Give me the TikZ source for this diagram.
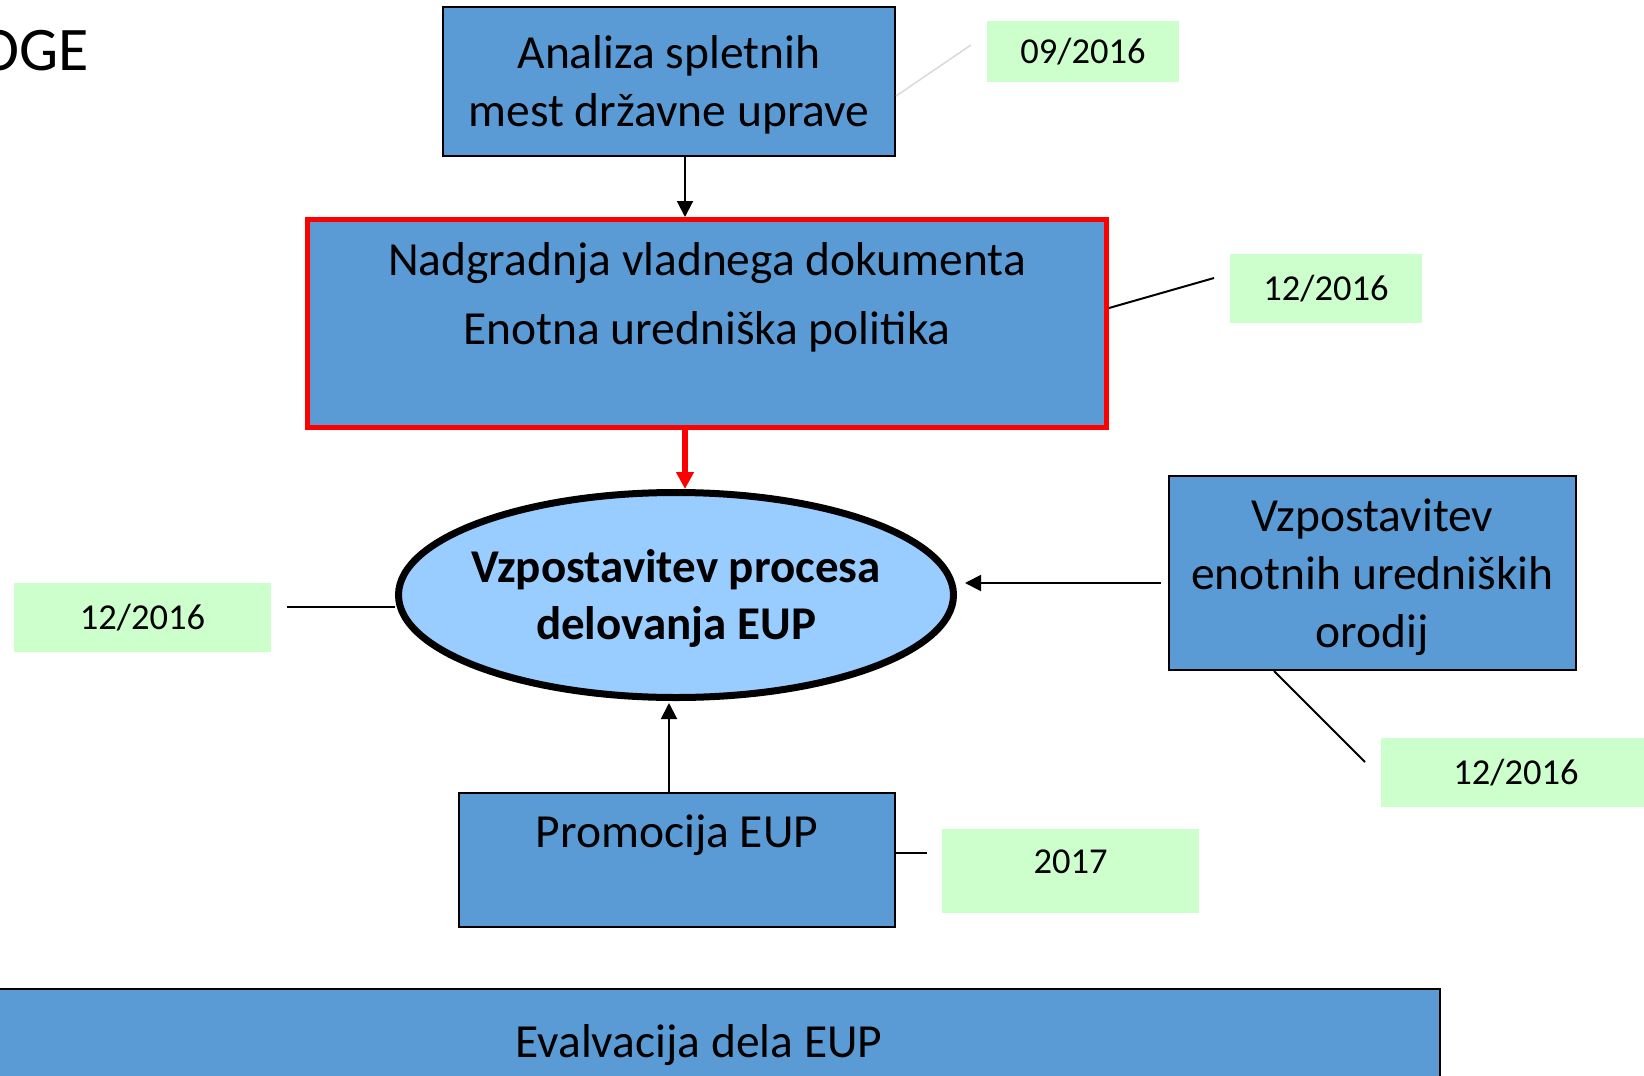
\documentclass[tikz,border=0pt]{standalone}
\usepackage{fontspec}
\setmainfont{Carlito}
\usepackage{xcolor}
\usetikzlibrary{arrows.meta,shapes.geometric}
\definecolor{eupBlue}{RGB}{91,155,213}
\definecolor{eupLight}{RGB}{153,204,255}
\definecolor{eupGreen}{RGB}{204,255,204}
\definecolor{eupRed}{RGB}{255,0,0}
\definecolor{eupGrey}{RGB}{217,217,217}

\begin{document}
\begin{tikzpicture}[x=1pt,y=-1pt,
    task/.style={draw=black,line width=2pt,fill=eupBlue,inner sep=0pt,align=center,text depth=0pt,font=\fontsize{47.5}{58}\selectfont},
    datebox/.style={fill=eupGreen,inner sep=0pt,font=\fontsize{36.5}{44}\selectfont},
    flow/.style={-{Triangle[width=16pt,length=16pt]},line width=2pt},
    redflow/.style={-{Triangle[width=17pt,length=17pt]},line width=6pt,eupRed},
    datelink/.style={line width=2pt}]
            \useasboundingbox (0,0) rectangle (1644,1076);

            % Title (cut off at the left)
            \node[anchor=base west,inner sep=0pt,font=\fontsize{62}{74}\selectfont] (title) at (-22,70) {OGE};

            % Tasks
            \node[task,minimum width=452pt,minimum height=149pt] (ana) at (669,81.5) {Analiza spletnih\\mest državne uprave};
            
            \node[task,draw=eupRed,line width=5pt,text depth=59pt,minimum width=799pt,minimum height=208pt] (nad) at (707,323.5) {Nadgradnja vladnega dokumenta\\[11pt]Enotna uredniška politika};
            
            \node[ellipse,draw=black,line width=7pt,fill=eupLight,inner xsep=-30pt,inner ysep=0pt,text depth=0pt,minimum width=555pt,minimum height=205pt,align=center,font=\fontsize{47}{57}\selectfont\bfseries] (proc) at (676,595) {Vzpostavitev procesa\\delovanja EUP};
            
            \node[task,minimum width=407pt,minimum height=194pt] (vzp) at (1372.5,573) {Vzpostavitev\\enotnih uredniških\\orodij};
            
            \node[task,text depth=57pt,minimum width=436pt,minimum height=134pt] (pro) at (677,860) {Promocija EUP};
            
            \node[task,line width=2.5pt,minimum width=1482pt,minimum height=104pt] (eva) at (699,1041) {Evalvacija dela EUP};
            
            \draw[flow] ([xshift=16pt]ana.south) -- ([xshift=16pt]ana.south |- nad.north);
            \draw[redflow] ([xshift=-22pt]nad.south) -- ([xshift=-22pt]nad.south |- proc.north);
            \draw[flow,shorten <=7pt,shorten >=8pt] ([yshift=-10pt]vzp.west) -- ([yshift=-10pt]vzp.west -| proc.east);
            \draw[flow,shorten >=2pt] ([xshift=-8pt]pro.north) -- ([xshift=-8pt]pro.north |- proc.south);
            
            % Deadlines
            \node[datebox,minimum width=192pt,minimum height=61pt] (d1) at (1083,51.5) {09/2016};
            \node[datebox,minimum width=192pt,minimum height=69pt] (d2) at (1326,288.5) {12/2016};
            \node[datebox,minimum width=257pt,minimum height=69pt] (d3) at (142.5,617.5) {12/2016};
            \node[datebox,minimum width=270pt,minimum height=69pt] (d4) at (1516,772.5) {12/2016};
            \node[datebox,text depth=18pt,minimum width=257pt,minimum height=84pt] (d5) at (1070.5,871) {2017};
            
            \coordinate (e1) at (971,45);
            \coordinate (e2) at (1214,278);
            \coordinate (e3) at (287,607);
            \coordinate (e4) at (1365,762);
            \coordinate (e5) at (927,853);
            
            \draw[datelink,eupGrey,line width=1.5pt] ([yshift=-14.5pt]ana.east) -- (e1);
            \draw[datelink] ([yshift=15.5pt]nad.east) -- (e2);
            \draw[datelink] (e3) -- (proc.west |- e3);
            \draw[datelink] ([xshift=-98.5pt]vzp.south) -- (e4);
            \draw[datelink] ([yshift=7pt]pro.east) -- (e5);
        \end{tikzpicture}
\end{document}
